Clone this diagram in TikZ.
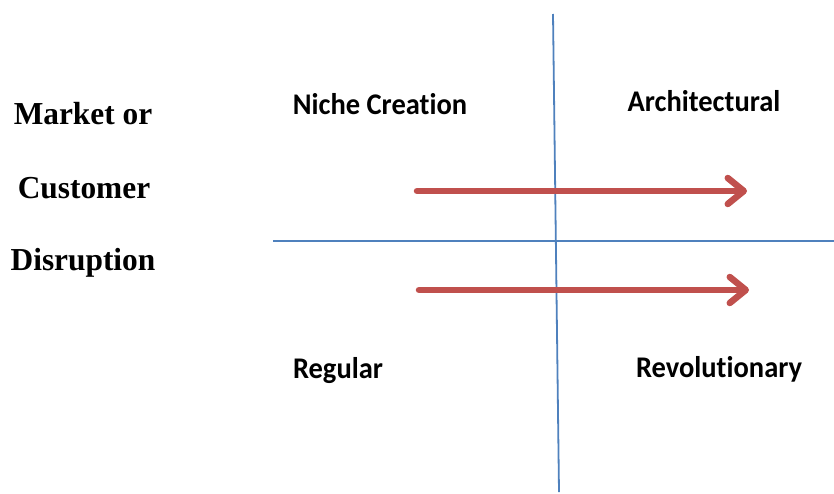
\documentclass[tikz,border=0pt]{standalone}
\usepackage{fontspec}
\setmainfont{Liberation Serif}
\newfontfamily\calib[Ligatures=NoCommon]{Carlito}
\usetikzlibrary{arrows.meta}
\definecolor{axisblue}{HTML}{4F81BD}
\definecolor{arrred}{HTML}{C0504D}
\begin{document}
\begin{tikzpicture}[x=1pt,y=-1pt,
  axis/.style={draw=axisblue,line width=1.8pt},
  redarrow/.style={draw=arrred,line width=6.5pt,line cap=round,line join=round,
    -{Straight Barb[length=16pt,width=26pt,line cap=round,line join=round]}},
  sidelabel/.style={font=\fontsize{32}{32}\selectfont\bfseries,inner sep=0pt,anchor=base,xscale=0.98},
  quadlabel/.style={font=\calib\fontsize{30}{30}\selectfont\bfseries,inner sep=0pt,anchor=base,xscale=0.95}]
\useasboundingbox (0,0) rectangle (834,493);
\coordinate (vtop) at (553,14);
\coordinate (vbot) at (559,492);
\coordinate (hleft) at (273,241);
\coordinate (hright) at (834,241);
\draw[axis] (vtop) -- (vbot);
\draw[axis] (hleft) -- (hright);
\coordinate (a1s) at (417,191);
\coordinate (a1e) at (747,191);
\coordinate (a2s) at (419,290);
\coordinate (a2e) at (749,290);
\draw[redarrow] (a1s) -- (a1e);
\draw[redarrow] (a2s) -- (a2e);
\node[sidelabel] (m) at (83,124) {Market or};
\node[sidelabel] (c) at (84,198) {Customer};
\node[sidelabel] (d) at (83,270) {Disruption};
\node[quadlabel] (nc) at (380,114) {Niche Creation};
\node[quadlabel] (ar) at (704,111) {Architectural};
\node[quadlabel] (rg) at (338,378) {Regular};
\node[quadlabel] (rv) at (719,377) {Revolutionary};
\end{tikzpicture}
\end{document}
